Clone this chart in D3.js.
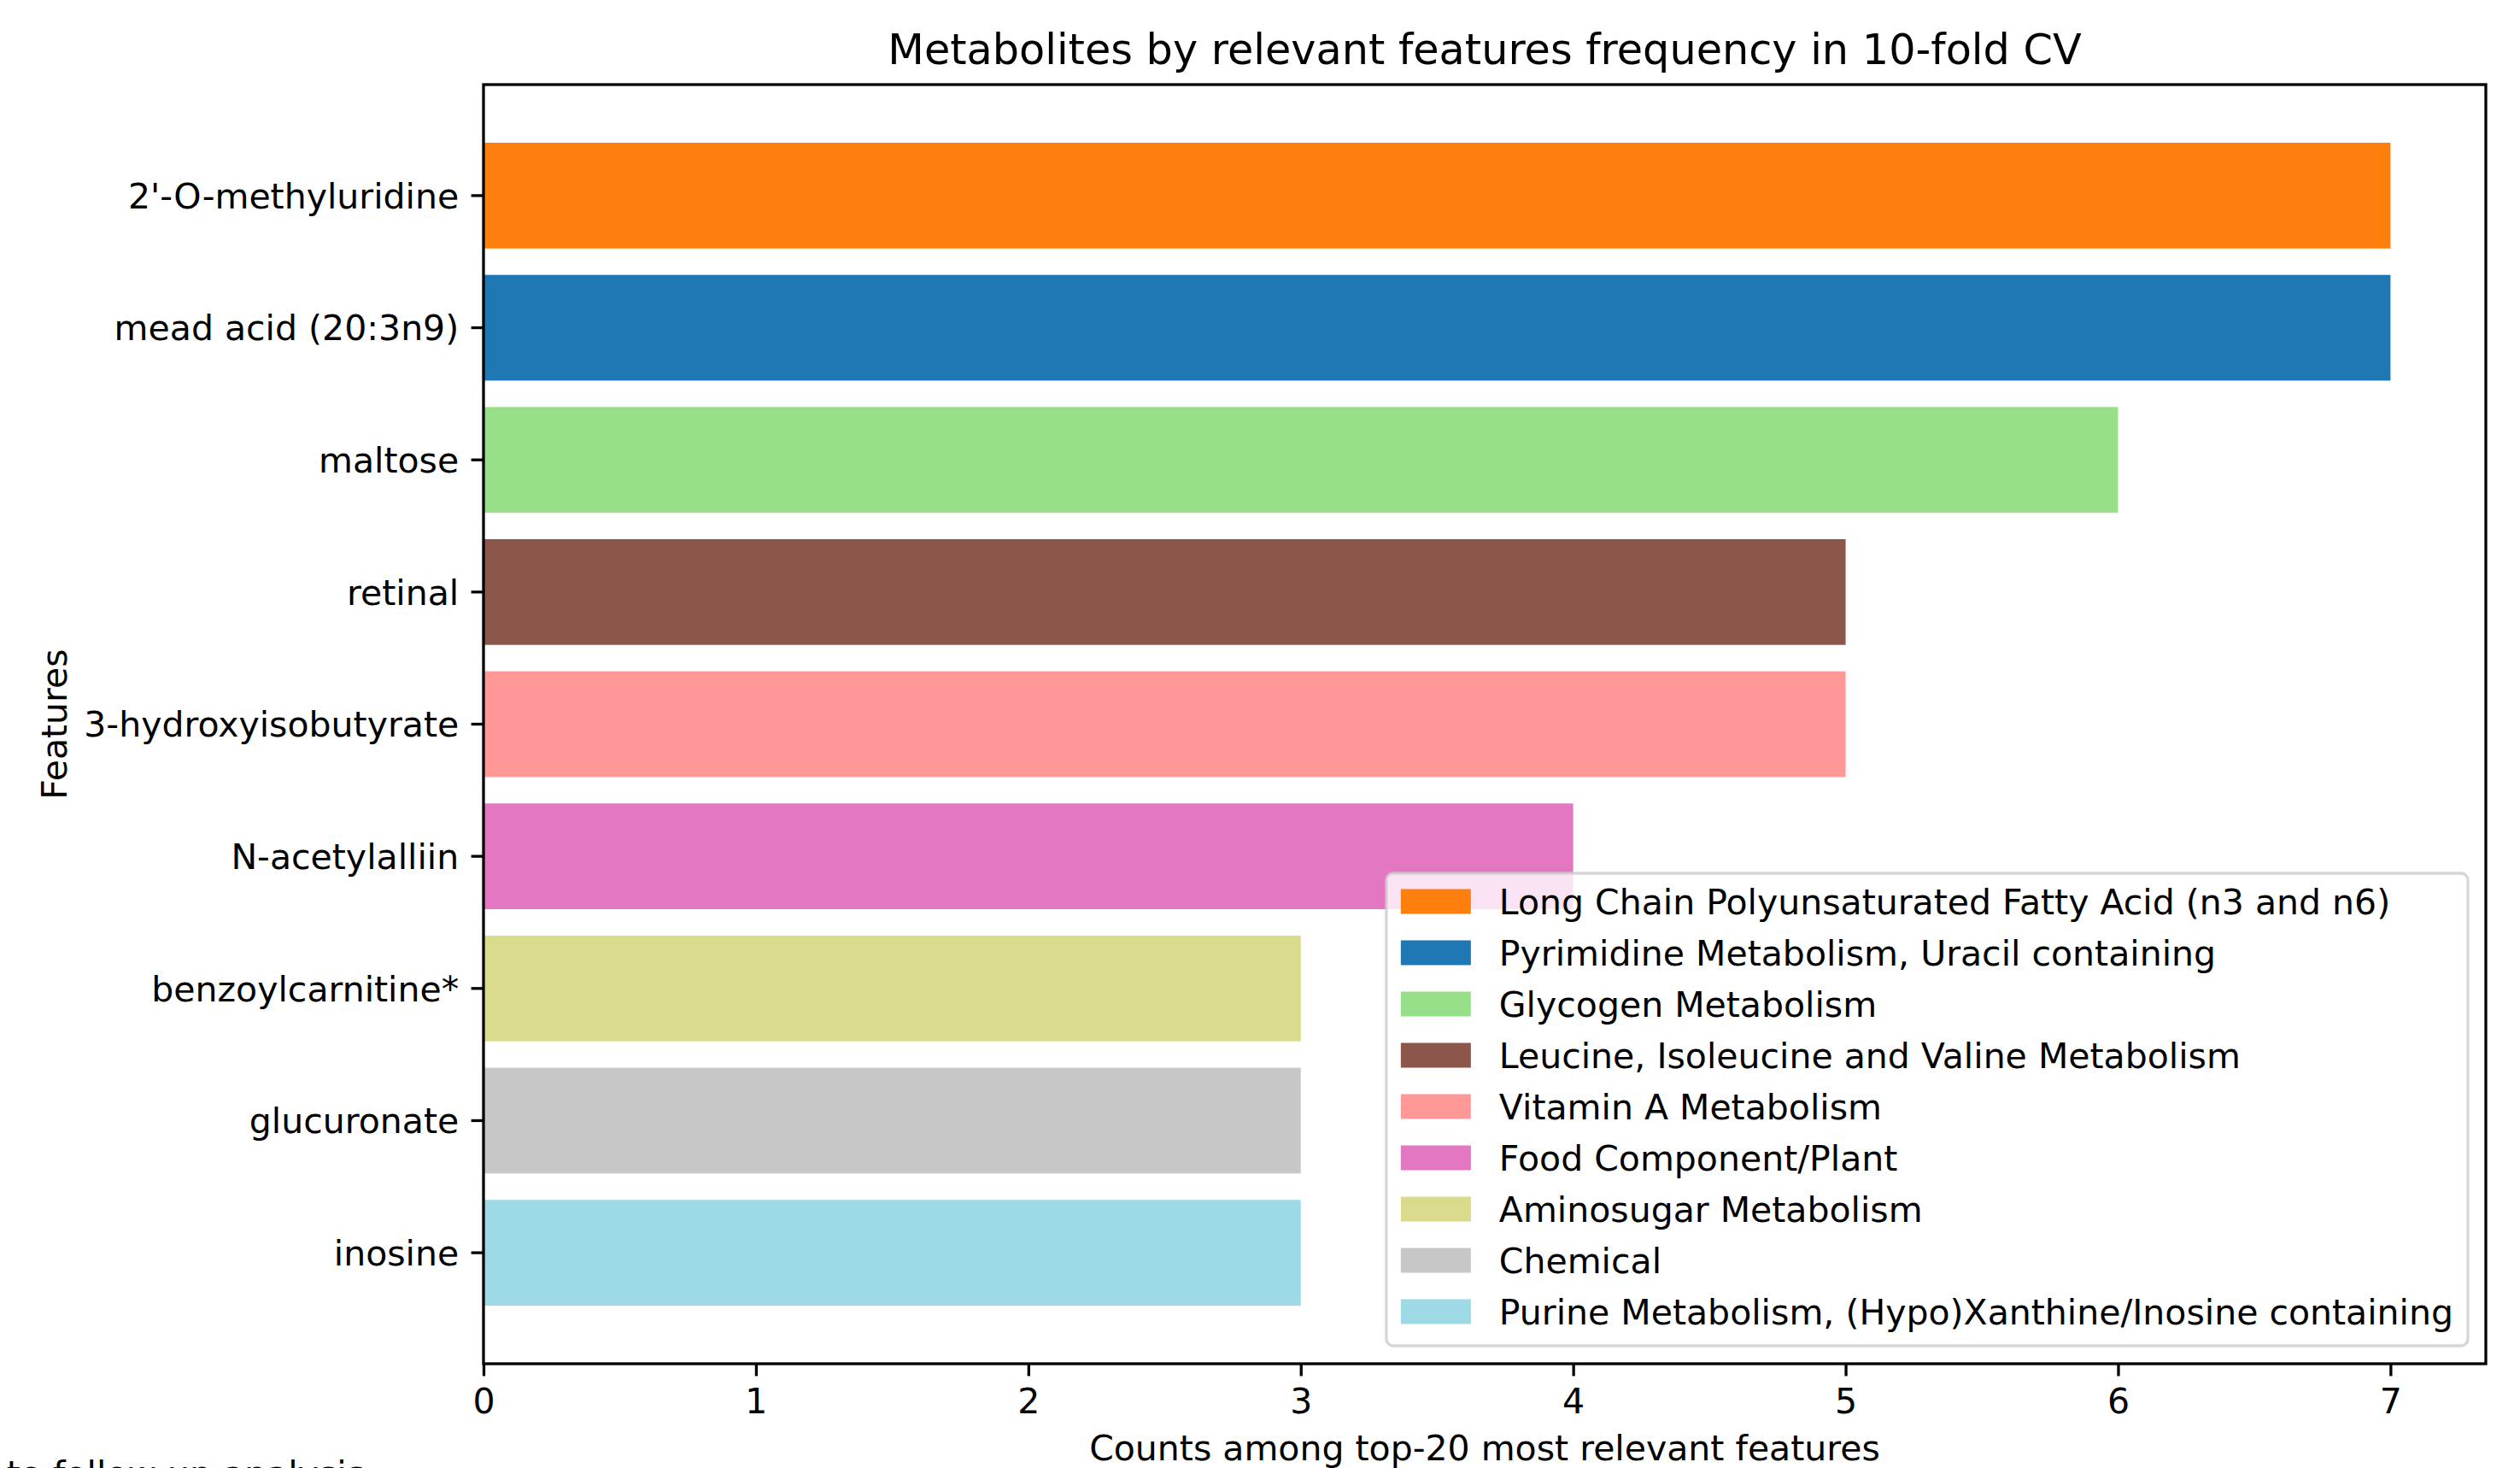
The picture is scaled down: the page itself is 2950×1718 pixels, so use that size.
<!DOCTYPE html>
<html>
<head>
<meta charset="utf-8">
<script src="https://cdn.jsdelivr.net/npm/d3@7"></script>
<style>
  body { margin: 0; background: #fff; }
  text { font-family: "DejaVu Sans", sans-serif; }
</style>
</head>
<body>
<script>
//data, top bar first
var features = ["2'-O-methyluridine", "mead acid (20:3n9)", "maltose", "retinal", "3-hydroxyisobutyrate",
    "N-acetylalliin", "benzoylcarnitine*", "glucuronate", "inosine"];
var counts = [7, 7, 6, 5, 5, 4, 3, 3, 3];
var groups = ["Long Chain Polyunsaturated Fatty Acid (n3 and n6)", "Pyrimidine Metabolism, Uracil containing",
    "Glycogen Metabolism", "Leucine, Isoleucine and Valine Metabolism", "Vitamin A Metabolism",
    "Food Component/Plant", "Aminosugar Metabolism", "Chemical",
    "Purine Metabolism, (Hypo)Xanthine/Inosine containing"];
var colors = ["#ff7f0e", "#1f77b4", "#98df8a", "#8c564b", "#ff9896", "#e377c2", "#dbdb8d", "#c7c7c7", "#9edae5"];
var xTicks = [0, 1, 2, 3, 4, 5, 6, 7];

var fs = 41.0;
var lw = 3.3;

var svg = d3.select("body")
    .append("svg")
    .attr("width", 2950)
    .attr("height", 1718)
    .style("display", "block");

var margin = {top: 99, left: 566, right: 40, bottom: 122};
var width = 2950 - margin.left - margin.right;
var height = 1718 - margin.top - margin.bottom;

var g = svg.append("g").attr("transform", "translate(" + margin.left + "," + margin.top + ")");

var x = d3.scaleLinear().domain([0, 7 * 1.05]).range([0, width]);
var y = d3.scaleBand().domain(features).range([0, height]).paddingInner(0.2).paddingOuter(0.44);

//bars
g.selectAll(".bar")
    .data(features)
    .enter()
    .append("rect")
    .attr("class", "bar")
    .attr("x", x(0))
    .attr("y", function (d) { return y(d); })
    .attr("width", function (d, i) { return x(counts[i]) - x(0); })
    .attr("height", y.bandwidth())
    .attr("fill", function (d, i) { return colors[i]; });

//axes
var xAxis = g.append("g")
    .attr("transform", "translate(0," + height + ")")
    .call(d3.axisBottom(x).tickValues(xTicks).tickFormat(d3.format("d")).tickSize(14.4).tickPadding(14.4));
var yAxis = g.append("g")
    .call(d3.axisLeft(y).tickSize(14.4).tickPadding(14.4));

[xAxis, yAxis].forEach(function (a) {
    a.select(".domain").remove();
    a.selectAll("line").attr("stroke", "#000").attr("stroke-width", lw);
    a.selectAll("text").attr("fill", "#000").style("font-size", fs + "px").style("font-family", "DejaVu Sans");
});
yAxis.selectAll("text").attr("dy", "0.36em");

//frame
g.append("rect")
    .attr("width", width)
    .attr("height", height)
    .attr("fill", "none")
    .attr("stroke", "#000")
    .attr("stroke-width", lw);

//legend (lower right)
var lg = g.append("g");
var rowH = 60;
var handleW = 82, handleH = 29, textPad = 33;
var legRight = width - 21;
var legBottom = height - 21;

var texts = lg.selectAll(".ltxt")
    .data(groups)
    .enter()
    .append("text")
    .attr("class", "ltxt")
    .style("font-size", fs + "px")
    .text(function (d) { return d; });

var maxW = d3.max(texts.nodes(), function (n) { return n.getComputedTextLength(); });
var legW = 17 + handleW + textPad + maxW + 17;
var legH = 553;
var legLeft = legRight - legW;
var legTop = legBottom - legH;

lg.insert("rect", ":first-child")
    .attr("x", legLeft)
    .attr("y", legTop)
    .attr("width", legW)
    .attr("height", legH)
    .attr("rx", 8)
    .attr("fill", "#fff")
    .attr("fill-opacity", 0.8)
    .attr("stroke", "#cccccc")
    .attr("stroke-opacity", 0.8)
    .attr("stroke-width", lw);

var firstRow = legTop + 33;
lg.selectAll(".lbox")
    .data(groups)
    .enter()
    .append("rect")
    .attr("class", "lbox")
    .attr("x", legLeft + 17)
    .attr("y", function (d, i) { return firstRow + i * rowH - handleH / 2; })
    .attr("width", handleW)
    .attr("height", handleH)
    .attr("fill", function (d, i) { return colors[i]; });

texts.attr("x", legLeft + 17 + handleW + textPad)
    .attr("y", function (d, i) { return firstRow + i * rowH; })
    .attr("dy", "0.36em");

//titles
svg.append("text")
    .attr("x", margin.left + width / 2)
    .attr("y", 75)
    .attr("text-anchor", "middle")
    .style("font-size", "49.3px")
    .text("Metabolites by relevant features frequency in 10-fold CV");

svg.append("text")
    .attr("x", margin.left + width / 2)
    .attr("y", 1709)
    .attr("text-anchor", "middle")
    .style("font-size", fs + "px")
    .text("Counts among top-20 most relevant features");

svg.append("text")
    .attr("transform", "translate(78," + (margin.top + height / 2) + ") rotate(-90)")
    .attr("text-anchor", "middle")
    .style("font-size", fs + "px")
    .text("Features");

//stray caption cut at the bottom edge
svg.append("text")
    .attr("x", 427)
    .attr("y", 1739)
    .attr("text-anchor", "end")
    .style("font-size", fs + "px")
    .text("to follow up analysis");
</script>
</body>
</html>
